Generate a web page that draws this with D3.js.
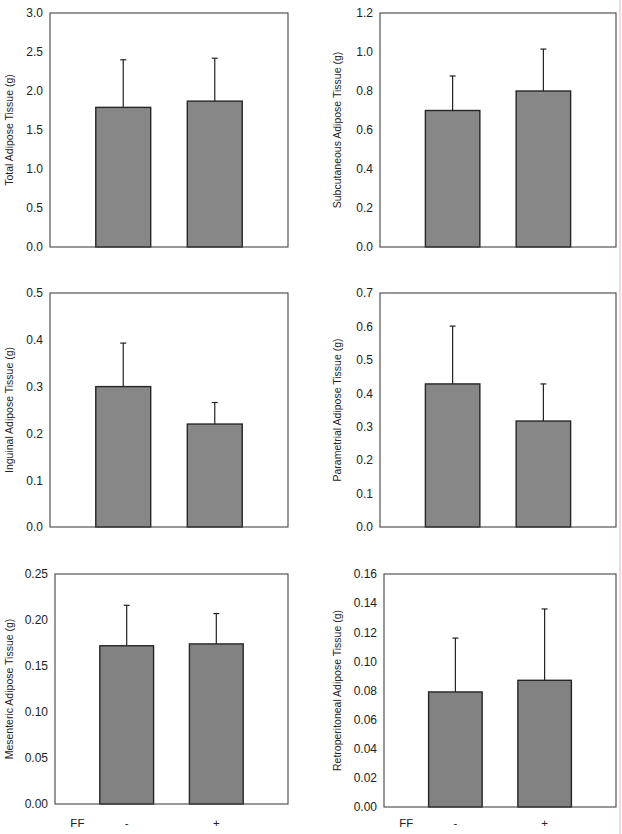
<!DOCTYPE html>
<html>
<head>
<meta charset="utf-8">
<script src="https://cdn.jsdelivr.net/npm/d3@7.9.0/dist/d3.min.js"></script>
<style>
  body { margin: 0; background: #fff; }
  svg { display: block; font-family: 'Liberation Sans', Arial, sans-serif; }
</style>
</head>
<body>
<div id="chart"></div>
<script>
// Data
const groups = ['-', '+'];
const titles = [
  'Total Adipose Tissue (g)',
  'Subcutaneous Adipose Tissue (g)',
  'Inguinal Adipose Tissue (g)',
  'Parametrial Adipose Tissue (g)',
  'Mesenteric Adipose Tissue (g)',
  'Retroperitoneal Adipose Tissue (g)'
];
const yMaxes = [3.0, 1.2, 0.5, 0.7, 0.25, 0.16];
const tickSteps = [0.5, 0.2, 0.1, 0.1, 0.05, 0.02];
const tickFormats = ['.1f', '.1f', '.1f', '.1f', '.2f', '.2f'];
const means = [
  [1.79, 1.87],
  [0.70, 0.80],
  [0.30, 0.22],
  [0.428, 0.317],
  [0.172, 0.174],
  [0.079, 0.087]
];
const errors = [
  [0.61, 0.55],
  [0.177, 0.215],
  [0.093, 0.046],
  [0.173, 0.111],
  [0.044, 0.033],
  [0.037, 0.049]
];

const width = 622, height = 834;

// panel frames (pixel layout)
const frames = [
  { left: 50,  right: 288, top: 13,  bottom: 247, titleX: 9 },
  { left: 380, right: 616, top: 13,  bottom: 247, titleX: 337 },
  { left: 50,  right: 288, top: 293, bottom: 527, titleX: 9 },
  { left: 380, right: 616, top: 293, bottom: 527, titleX: 337 },
  { left: 55,  right: 288, top: 574, bottom: 804, titleX: 9 },
  { left: 384, right: 616, top: 574, bottom: 807, titleX: 337 }
];

const svg = d3.select('#chart').append('svg')
  .attr('width', width)
  .attr('height', height);

// faint pink page edge on the right
svg.append('line')
  .attr('x1', 620).attr('x2', 620)
  .attr('y1', 0).attr('y2', height)
  .attr('stroke', '#f3cdd6')
  .attr('stroke-width', 1.5);

titles.forEach((title, i) => {
  const f = frames[i];
  const g = svg.append('g');

  const x = d3.scaleLinear().domain([0.2, 2.8]).range([f.left, f.right]);
  const y = d3.scaleLinear().domain([0, yMaxes[i]]).range([f.bottom, f.top]);
  const barW = x(0.6) - x(0);

  const rows = groups.map((grp, j) => ({ grp, pos: j + 1, mean: means[i][j], err: errors[i][j] }));

  // error bars (upper only)
  g.selectAll('line.err')
    .data(rows)
    .join('line')
    .attr('class', 'err')
    .attr('x1', d => x(d.pos)).attr('x2', d => x(d.pos))
    .attr('y1', d => y(d.mean)).attr('y2', d => y(d.mean + d.err))
    .attr('stroke', '#222').attr('stroke-width', 1.2);

  g.selectAll('line.cap')
    .data(rows)
    .join('line')
    .attr('class', 'cap')
    .attr('x1', d => x(d.pos) - 3).attr('x2', d => x(d.pos) + 3)
    .attr('y1', d => y(d.mean + d.err)).attr('y2', d => y(d.mean + d.err))
    .attr('stroke', '#222').attr('stroke-width', 1.2);

  // bars
  g.selectAll('rect.bar')
    .data(rows)
    .join('rect')
    .attr('class', 'bar')
    .attr('x', d => x(d.pos) - barW / 2)
    .attr('width', barW)
    .attr('y', d => y(d.mean))
    .attr('height', d => y(0) - y(d.mean))
    .attr('fill', i >= 4 ? '#828282' : '#878787')
    .attr('stroke', '#262626')
    .attr('stroke-width', 1.4);

  // frame
  g.append('rect')
    .attr('x', f.left).attr('y', f.top)
    .attr('width', f.right - f.left)
    .attr('height', f.bottom - f.top)
    .attr('fill', 'none')
    .attr('stroke', '#444')
    .attr('stroke-width', 1.1);

  // y axis
  const ticks = d3.range(0, yMaxes[i] + tickSteps[i] / 2, tickSteps[i]);
  const yAxis = d3.axisLeft(y)
    .tickValues(ticks)
    .tickFormat(d3.format(tickFormats[i]))
    .tickSize(0)
    .tickPadding(7);

  const ag = g.append('g')
    .attr('transform', `translate(${f.left},0)`)
    .call(yAxis);
  ag.select('.domain').remove();
  ag.selectAll('text')
    .attr('font-size', 12)
    .attr('font-family', "'Liberation Sans', Arial, sans-serif")
    .attr('fill', '#222');

  // y title
  g.append('text')
    .attr('transform', `translate(${f.titleX + 4},${(f.top + f.bottom) / 2}) rotate(-90)`)
    .attr('text-anchor', 'middle')
    .attr('font-size', 10.5)
    .attr('fill', '#222')
    .text(title);

  // x labels on bottom row
  if (i >= 4) {
    const ly = 827;
    g.append('text')
      .attr('x', x(0.45)).attr('y', ly)
      .attr('text-anchor', 'middle')
      .attr('font-size', 11.5)
      .attr('fill', '#222')
      .text('FF');
    g.selectAll('text.grp')
      .data(rows)
      .join('text')
      .attr('class', 'grp')
      .attr('x', d => x(d.pos)).attr('y', ly)
      .attr('text-anchor', 'middle')
      .attr('font-size', 11.5)
      .attr('fill', '#222')
      .text(d => d.grp);
  }
});
</script>
</body>
</html>
